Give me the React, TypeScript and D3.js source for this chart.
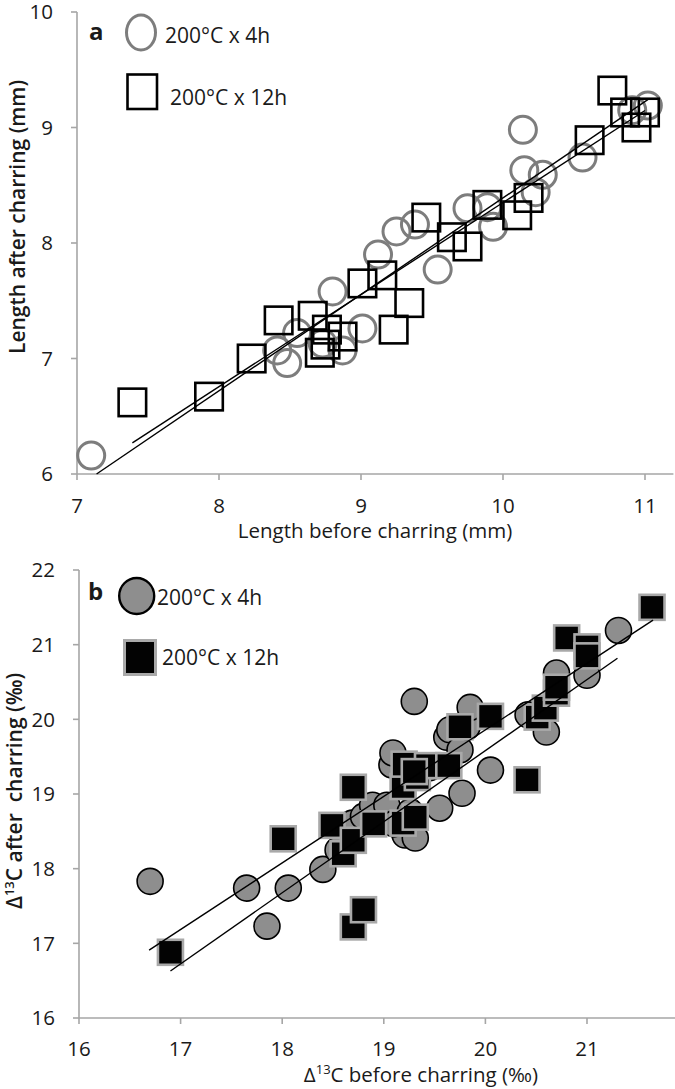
import React from 'react';
import * as d3 from 'd3';

// ---------- Panel a: length (mm) ----------
const lenTicksX = [7, 8, 9, 10, 11];
const lenTicksY = [6, 7, 8, 9, 10];
const len4h: [number, number][] = [
  [7.10, 6.16], [8.41, 7.07], [8.48, 6.96], [8.55, 7.22], [8.73, 7.13], [8.80, 7.58],
  [8.87, 7.07], [9.01, 7.26], [9.12, 7.90], [9.25, 8.10], [9.38, 8.16], [9.54, 7.77],
  [9.75, 8.30], [9.89, 8.31], [9.93, 8.14], [10.14, 8.98], [10.15, 8.63], [10.28, 8.59],
  [10.23, 8.44], [10.56, 8.74], [10.91, 9.15], [11.02, 9.19],
];
const len12h: [number, number][] = [
  [7.39, 6.62], [7.93, 6.67], [8.23, 7.00], [8.42, 7.33], [8.66, 7.37], [8.76, 7.25],
  [8.71, 7.05], [8.75, 7.12], [8.87, 7.19], [9.01, 7.65], [9.15, 7.72], [9.34, 7.48],
  [9.23, 7.25], [9.46, 8.22], [9.64, 8.05], [9.75, 7.97], [9.89, 8.33], [10.10, 8.24],
  [10.18, 8.39], [10.61, 8.89], [10.77, 9.32], [10.86, 9.13], [11.00, 9.13], [10.94, 9.00],
];
// trend lines: [slope, intercept, xStart, xEnd]
const lenFit4h = [0.835, 0.04, 7.10, 11.02];
const lenFit12h = [0.797, 0.38, 7.39, 11.0];

// ---------- Panel b: Δ13C (‰) ----------
const dTicksX = [16, 17, 18, 19, 20, 21];
const dTicksY = [16, 17, 18, 19, 20, 21, 22];
const d4h: [number, number][] = [
  [16.70, 17.83], [17.65, 17.74], [17.85, 17.23], [18.06, 17.74], [18.40, 17.99],
  [18.55, 18.25], [18.69, 18.61], [18.80, 18.70], [18.89, 18.85], [19.03, 18.85],
  [19.08, 19.39], [19.09, 19.55], [19.30, 20.24], [19.21, 18.45], [19.31, 18.41],
  [19.26, 18.76], [19.55, 18.81], [19.62, 19.76], [19.65, 19.86], [19.75, 19.59],
  [19.77, 19.01], [19.82, 19.90], [19.85, 20.16], [20.05, 19.32], [20.42, 20.06],
  [20.60, 19.83], [20.70, 20.62], [21.00, 20.59], [21.31, 21.19], [19.45, 19.35],
  [19.10, 18.60],
];
const d12h: [number, number][] = [
  [16.90, 16.88], [18.01, 18.40], [18.49, 18.58], [18.60, 18.20], [18.70, 18.38],
  [18.70, 19.09], [18.70, 17.22], [18.80, 17.45], [18.90, 18.60], [19.19, 18.61],
  [19.19, 19.10], [19.20, 19.40], [19.31, 18.69], [19.33, 19.22], [19.43, 19.38],
  [19.64, 19.38], [19.75, 19.90], [20.05, 20.04], [20.41, 19.19], [20.51, 20.03],
  [20.59, 20.15], [20.70, 20.35], [20.70, 20.43], [20.80, 21.09], [21.00, 20.97],
  [21.00, 20.85], [21.64, 21.50], [19.30, 19.30],
];
const dFitA = [0.891, 2.039, 16.69, 21.65];
const dFitB = [0.952, 0.541, 16.90, 21.30];

const FONT = "'Open Sans', 'Noto Sans', sans-serif";
const AXIS = '#a6a6a6';
const TXT = '#1a1a1a';

function fitPath(fit: number[], xs: d3.ScaleLinear<number, number>, ys: d3.ScaleLinear<number, number>) {
  const [m, b, x0, x1] = fit;
  const yMin = ys.domain()[0];
  const start = Math.max(x0, (yMin - b) / m);
  const pts: [number, number][] = [[start, m * start + b], [x1, m * x1 + b]];
  return d3.line<[number, number]>().x(d => xs(d[0])).y(d => ys(d[1]))(pts) || '';
}

function Axes({ xs, ys, ticksX, ticksY, xLabelY }: any) {
  const [x0, x1] = xs.range();
  const [y0, y1] = ys.range();
  return (
    <g>
      <line x1={x0} x2={x0} y1={y1} y2={y0} stroke={AXIS} strokeWidth={1.6} />
      <line x1={x0} x2={x1} y1={y0} y2={y0} stroke={AXIS} strokeWidth={1.6} />
      {ticksY.map((t: number) => (
        <g key={'y' + t}>
          <line x1={x0 - 6} x2={x0} y1={ys(t)} y2={ys(t)} stroke={AXIS} strokeWidth={1.6} />
          <text x={x0 - 24} y={ys(t)} dy="0.36em" textAnchor="end" fontSize={20.5} fill={TXT}>{t}</text>
        </g>
      ))}
      {ticksX.map((t: number) => (
        <g key={'x' + t}>
          <line x1={xs(t)} x2={xs(t)} y1={y0} y2={y0 + 6} stroke={AXIS} strokeWidth={1.6} />
          <text x={xs(t)} y={xLabelY} textAnchor="middle" fontSize={20.5} fill={TXT}>{t}</text>
        </g>
      ))}
    </g>
  );
}

export default function App() {
  const ax = d3.scaleLinear().domain([7, 11.2]).range([77, 673.4]);
  const ay = d3.scaleLinear().domain([6, 10]).range([474, 12]);
  const bx = d3.scaleLinear().domain([16, 21.88]).range([79, 676.4]);
  const by = d3.scaleLinear().domain([16, 22]).range([1018, 570]);

  const sqA = 27.5;
  const sqB = 25;

  return (
    <svg width={675} height={1089} style={{ position: 'absolute', left: 0, top: 0, background: '#fff' }}
      fontFamily={FONT}>
      <rect width={675} height={1089} fill="#fff" />
      {/* Panel a */}
      <Axes xs={ax} ys={ay} ticksX={lenTicksX} ticksY={lenTicksY} xLabelY={513} />
      <text x={375} y={538} textAnchor="middle" fontSize={20.5} fill={TXT}>Length before charring (mm)</text>
      <text transform="translate(25,217) rotate(-90)" textAnchor="middle" fontSize={21} fontWeight={600} fill={TXT}>Length after charring (mm)</text>
      {len4h.map((d, i) => (
        <circle key={'a4' + i} cx={ax(d[0])} cy={ay(d[1])} r={13.5} fill="none" stroke="#7d7d7d" strokeWidth={3} />
      ))}
      {len12h.map((d, i) => (
        <rect key={'a12' + i} x={ax(d[0]) - sqA / 2} y={ay(d[1]) - sqA / 2} width={sqA} height={sqA} fill="none" stroke="#000" strokeWidth={2.6} />
      ))}
      <path d={fitPath(lenFit4h, ax, ay)} stroke="#000" strokeWidth={1.4} fill="none" />
      <path d={fitPath(lenFit12h, ax, ay)} stroke="#000" strokeWidth={1.4} fill="none" />
      {/* legend a */}
      <text x={89} y={40} fontSize={24} fontWeight={700} fill={TXT}>a</text>
      <ellipse cx={141} cy={32.5} rx={14.5} ry={17.5} fill="none" stroke="#7d7d7d" strokeWidth={3} />
      <text x={165} y={43} fontSize={21} fill={TXT}>200°C x 4h</text>
      <rect x={127.5} y={74.5} width={29.5} height={34.5} fill="none" stroke="#000" strokeWidth={2.6} />
      <text x={170} y={105} fontSize={21} fill={TXT}>200°C x 12h</text>

      {/* Panel b */}
      <Axes xs={bx} ys={by} ticksX={dTicksX} ticksY={dTicksY} xLabelY={1056} />
      <text x={421} y={1082} textAnchor="middle" fontSize={20.5} fill={TXT}>
        Δ<tspan fontSize={13} dy={-8}>13</tspan><tspan dy={8}>C before charring (‰)</tspan>
      </text>
      <text transform="translate(22,791) rotate(-90)" textAnchor="middle" fontSize={21} fontWeight={600} fill={TXT} style={{ whiteSpace: 'pre' }}>
        Δ<tspan fontSize={13} dy={-8}>13</tspan><tspan dy={8}>C after  charring (‰)</tspan>
      </text>
      {d4h.map((d, i) => (
        <circle key={'b4' + i} cx={bx(d[0])} cy={by(d[1])} r={13} fill="#8e8e8e" stroke="#000" strokeWidth={1.6} />
      ))}
      {d12h.map((d, i) => (
        <rect key={'b12' + i} x={bx(d[0]) - sqB / 2} y={by(d[1]) - sqB / 2} width={sqB} height={sqB} fill="#030303" stroke="#a9a9a9" strokeWidth={2.6} />
      ))}
      <path d={fitPath(dFitA, bx, by)} stroke="#000" strokeWidth={1.4} fill="none" />
      <path d={fitPath(dFitB, bx, by)} stroke="#000" strokeWidth={1.4} fill="none" />
      {/* legend b */}
      <text x={88} y={600} fontSize={24} fontWeight={700} fill={TXT}>b</text>
      <ellipse cx={136.7} cy={596} rx={17.5} ry={18} fill="#8e8e8e" stroke="#000" strokeWidth={2.4} />
      <text x={157} y={605} fontSize={21} fill={TXT}>200°C x 4h</text>
      <rect x={124.5} y={640.5} width={31} height={34} fill="#030303" stroke="#a9a9a9" strokeWidth={3} />
      <text x={162} y={665} fontSize={21} fill={TXT}>200°C x 12h</text>
    </svg>
  );
}
